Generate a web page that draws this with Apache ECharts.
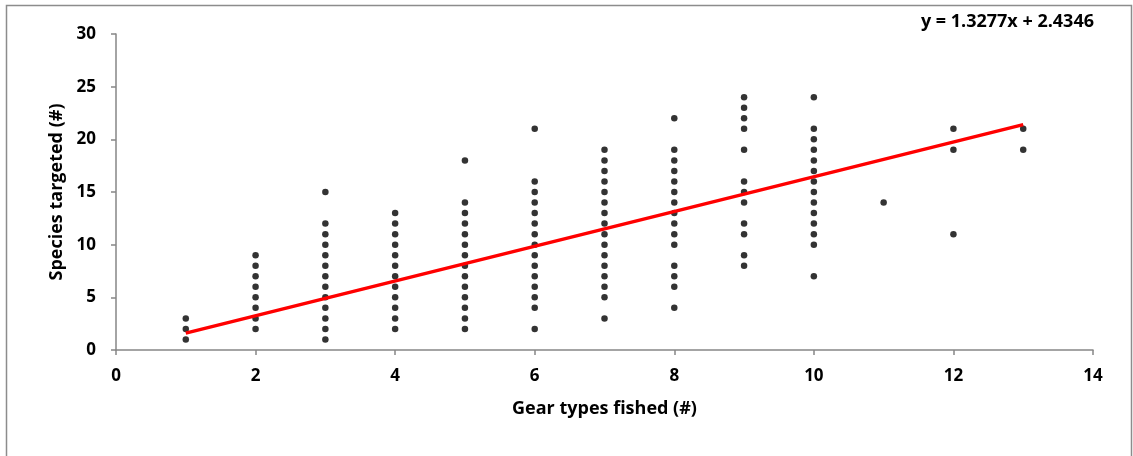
<!DOCTYPE html>
<html><head><meta charset="utf-8">
<script src="https://cdn.jsdelivr.net/npm/echarts@6/dist/echarts.min.js"></script>
<style>html,body{margin:0;padding:0;background:#fff}#c{width:1133px;height:456px}</style>
</head><body><div id="c"></div>
<script>
// Gear types fished (x) and species targeted (y) per column
const gearTypes = [1, 2, 3, 4, 5, 6, 7, 8, 9, 10, 11, 12, 13];
const speciesByGear = [
  [1, 2, 3],
  [2, 3, 4, 5, 6, 7, 8, 9],
  [1, 2, 3, 4, 5, 6, 7, 8, 9, 10, 11, 12, 15],
  [2, 3, 4, 5, 6, 7, 8, 9, 10, 11, 12, 13],
  [2, 3, 4, 5, 6, 7, 8, 9, 10, 11, 12, 13, 14, 18],
  [2, 4, 5, 6, 7, 8, 9, 10, 11, 12, 13, 14, 15, 16, 21],
  [3, 5, 6, 7, 8, 9, 10, 11, 12, 13, 14, 15, 16, 17, 18, 19],
  [4, 6, 7, 8, 10, 11, 12, 13, 14, 15, 16, 17, 18, 19, 22],
  [8, 9, 11, 12, 14, 15, 16, 19, 21, 22, 23, 24],
  [7, 10, 11, 12, 13, 14, 15, 16, 17, 18, 19, 20, 21, 24],
  [14],
  [11, 19, 21],
  [19, 21]
];
// Trend line endpoints as drawn in the picture
const trendX = [1, 13];
const trendY = [1.6, 21.4];
const trendLabel = 'y = 1.3277x + 2.4346';
const xTicks = { min: 0, max: 14, interval: 2 };
const yTicks = { min: 0, max: 30, interval: 5 };

const points = [];
gearTypes.forEach((g, i) => speciesByGear[i].forEach(s => points.push([g, s])));
const trend = trendX.map((x, i) => [x, trendY[i]]);

const FONT = '"Open Sans", Lato, sans-serif';
const axisColor = '#868686';
const chart = echarts.init(document.getElementById('c'), null, { renderer: 'canvas' });
chart.setOption({
  animation: false,
  backgroundColor: '#fff',
  grid: { left: 116, right: 40, top: 34, bottom: 106 },
  graphic: [
    { type: 'rect', shape: { x: 6.5, y: 5.5, width: 1125, height: 460 },
      style: { fill: 'none', stroke: '#8c8c8c', lineWidth: 1.5 }, silent: true },
    { type: 'text', right: 39, top: 13,
      style: { text: trendLabel, font: 'bold 18px ' + FONT, fill: '#000' } }
  ],
  xAxis: {
    type: 'value', min: xTicks.min, max: xTicks.max, interval: xTicks.interval,
    name: 'Gear types fished (#)', nameLocation: 'middle', nameGap: 50,
    nameTextStyle: { fontFamily: FONT, fontWeight: 'bold', fontSize: 18, color: '#000' },
    axisLine: { show: true, onZero: false, lineStyle: { color: axisColor, width: 1.5 } },
    axisTick: { show: true, length: 5, lineStyle: { color: axisColor, width: 1.5 } },
    axisLabel: { fontFamily: FONT, fontWeight: 'bold', fontSize: 17, color: '#000', margin: 18 },
    splitLine: { show: false }
  },
  yAxis: {
    type: 'value', min: yTicks.min, max: yTicks.max, interval: yTicks.interval,
    name: 'Species targeted (#)', nameLocation: 'middle', nameGap: 49, nameRotate: 90,
    nameTextStyle: { fontFamily: FONT, fontWeight: 'bold', fontSize: 18, color: '#000' },
    axisLine: { show: true, lineStyle: { color: axisColor, width: 1.5 } },
    axisTick: { show: true, length: 5, lineStyle: { color: axisColor, width: 1.5 } },
    axisLabel: { fontFamily: FONT, fontWeight: 'bold', fontSize: 17, color: '#000', margin: 20 },
    splitLine: { show: false }
  },
  series: [
    { type: 'scatter', data: points, symbol: 'circle', symbolSize: 6.5,
      itemStyle: { color: '#000' }, z: 2 },
    { type: 'line', data: trend, showSymbol: false, symbol: 'none',
      lineStyle: { color: '#ff0000', width: 3.5 }, z: 3 }
  ]
});
</script></body></html>
